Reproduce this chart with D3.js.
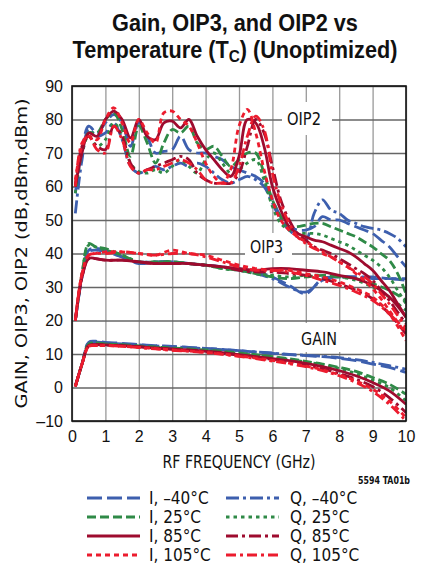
<!DOCTYPE html>
<html><head><meta charset="utf-8">
<script src="https://cdn.jsdelivr.net/npm/d3@7"></script>
<style>
html,body{margin:0;padding:0;background:#fff;}
svg{display:block;font-family:"Liberation Sans Narrow","DejaVu Sans Condensed","Roboto Condensed",sans-serif;}
</style></head>
<body>
<svg id="chart" width="422" height="568"></svg>
<script>
// ---------- data ----------
const seriesNames = ["I, –40°C","Q, –40°C","I, 25°C","Q, 25°C","I, 85°C","Q, 85°C","I, 105°C","Q, 105°C"];
const xTicks = [0,1,2,3,4,5,6,7,8,9,10];
const yTicks = [-10,0,10,20,30,40,50,60,70,80,90];

// OIP2 frequency grid (GHz)
const freqOIP2 = [0.1,0.3,0.5,0.75,1,1.25,1.5,1.75,2,2.25,2.5,2.75,3,3.25,3.5,3.75,4,4.25,4.5,4.75,5,5.25,5.5,5.75,6,6.25,6.5,6.75,7,7.25,7.5,7.75,8,8.25,8.5,8.75,9,9.25,9.5,9.75,10];
// Gain / OIP3 frequency grid (GHz)
const freqSmooth = [0.1,0.3,0.5,0.7,1,1.5,2,2.5,3,3.5,4,4.5,5,5.5,6,6.5,7,7.5,8,8.5,9,9.5,10];

const oip2I_m40 = [58,71,78,76,79,81.5,79,72,79,75,70,70.5,71,75,71,70,70,69,68,66,65,64,63,61,56,51,48,47,47,48,51,50,50,49,48,47,46,44,42,39,36];
const oip2Q_m40 = [52,68,77,75,76,79,74,66,64,65,66,65,66,67,66,67,66,64,62,61,62,63,62,60,55,50,47,45,44,52,56,53,52,50,49,48,47.5,47,46,44.5,42];
const oip2I_25  = [60,71,76,76,80,82,77,69,78,73,67,73,77,76,78,73,71,72,69,66,68,70,70,64,56,51,48,48,48.5,49,49,48,47,46,45,43.5,42,40,38,34,28];
const oip2Q_25  = [58,70,75,72,74,79,75,67,64.5,64,65,64,66,68,66,64,68,70,67,64,65,67,68,62,54,49,47,46,46,46,45.5,44.5,43.5,42.5,41,39.5,38,36,33,29,25];
const oip2I_85  = [60,70,76,75,80,82.5,80,74.5,80,75,74,79,79.5,77.5,80,75,71,68,65,63,69,80,79,72,60,53,48,46,45,44,43.5,42.5,41.5,40.5,39,37,35,32,29,25,21];
const oip2Q_85  = [60,72,75,72,71,78,75,67,64,65,66,67,68,69,68,64,62,61,61,61,64,72,80,76,66,56,50,46,44,42,41,40,38.5,37,35.5,34,32,29,26,22.5,19];
const oip2I_105 = [62,72,75,74,80,83.5,79,73,80,76,73,82,82.5,80,78,73,67,63,61,65,78,83,76,65,56,50,47,45,43.5,42,40,39,37.5,36,34,32,29.5,26.5,23,19.5,16];
const oip2Q_105 = [60,73,75,71,70,78,74,66,64,65,65,66,67,68,67,65,62,61,61,61,66,75,81,77,64,55,49,45,43,41.5,40.5,39,37.5,36,34.5,33,31,28,25,21.5,18];

const oip3I_m40 = [20,33,41,41.5,41,39,37,37.5,37.5,37,36.5,36,35.5,34.5,33,30.5,28,32.5,33,33,33,32.5,32.5];
const oip3Q_m40 = [20,33,40.5,41,40.5,39,37.5,37.5,37.5,37,36.5,36,35,34,32.5,30,28.5,32,33,33,32.5,32.5,32];
const oip3I_25  = [20,34,43,42,41.5,39.5,37.5,37.5,37.5,37,36.5,35.5,35,34,33,32.5,33,33.5,33,32.5,31,29,26];
const oip3Q_25  = [20,34,42.5,42,41,39.5,37.5,37.5,37.5,37,36.5,35.5,35,34,33.5,33,33.5,33.5,33,32,30,27,23];
const oip3I_85  = [20,33,38.5,38.5,38,38,37.5,37,37,37,36.5,36,35.5,35,35.5,35.5,35,34.5,33.5,32.5,30.5,27,21];
const oip3Q_85  = [20,33,38.5,38.5,38,38,37.5,37,37,37,36.5,36,35,34.5,34.5,34,33.5,32.5,31,29,26.5,22,16];
const oip3I_105 = [20,34,39.5,40,40.5,40.5,40,39.5,41,40,39.5,38,36.5,35.5,35,35,34,33,31.5,29.5,27,22,14];
const oip3Q_105 = [20,34,39.5,40,40,40.5,40,39.5,40,40,39,37.5,36,35,35,34.5,33.5,32,30.5,28.5,26,22,17];

const gainI_m40 = [0.3,7,13.5,13.8,13.5,13.2,12.8,12.5,12.3,12,11.7,11.4,11,10.6,10.2,9.8,9.5,9.2,8.7,8,7,6,4.5];
const gainQ_m40 = [0.5,7,13.3,13.6,13.3,13,12.7,12.4,12.2,11.9,11.6,11.3,11,10.6,10.3,9.9,9.6,9.3,8.9,8.3,7.5,6.5,5.5];
const gainI_25  = [0.3,7,13,13.3,13,12.8,12.4,12.1,11.8,11.5,11.2,10.8,10.3,9.8,9.2,8.6,7.8,7,6,4.8,3,1,-2];
const gainQ_25  = [0.5,7,13,13.2,13,12.7,12.3,12,11.7,11.4,11,10.6,10.1,9.6,9,8.4,7.6,6.8,5.7,4.2,2.2,0,-4];
const gainI_85  = [0.3,7,12.5,12.8,12.7,12.5,12.2,11.8,11.5,11.2,10.8,10.4,9.8,9.2,8.6,8,7.2,6.2,5,3.5,1.5,-1,-5];
const gainQ_85  = [0.3,7,12.5,12.8,12.7,12.4,12.1,11.7,11.4,11.1,10.7,10.2,9.6,9,8.4,7.6,6.7,5.6,4.2,2.5,0.3,-3,-7.5];
const gainI_105 = [0.3,7,12.3,12.5,12.5,12.3,12,11.6,11.2,10.9,10.5,10,9.4,8.8,8.1,7.3,6.4,5.3,3.8,2,-0.5,-4,-9];
const gainQ_105 = [0.3,7,12.3,12.5,12.5,12.3,11.9,11.5,11.1,10.8,10.4,9.9,9.3,8.6,7.9,7.1,6.2,5,3.5,1.5,-1.2,-5,-10];

const oip2Values = [oip2I_m40,oip2Q_m40,oip2I_25,oip2Q_25,oip2I_85,oip2Q_85,oip2I_105,oip2Q_105];
const oip3Values = [oip3I_m40,oip3Q_m40,oip3I_25,oip3Q_25,oip3I_85,oip3Q_85,oip3I_105,oip3Q_105];
const gainValues = [gainI_m40,gainQ_m40,gainI_25,gainQ_25,gainI_85,gainQ_85,gainI_105,gainQ_105];

// ---------- styles ----------
const colors = ["#3d5fae","#3d5fae","#2f8a47","#2f8a47","#9e0b2e","#9e0b2e","#ec1c2e","#ec1c2e"];
const dashes = ["15 5","13 4 3 4","9 4","3.5 4","none","12 4 3 4","5 4","10 4 3 4"];

const svg = d3.select("#chart");
const L = 72, R = 406, T = 86, B = 421;
const x = d3.scaleLinear().domain([0,10]).range([L,R]);
const y = d3.scaleLinear().domain([-10,90]).range([B,T]);

// title (horizontally condensed to match the narrow original face)
function condensedLine(cx, cy, targetW, build){
  const g = svg.append("g").attr("transform",`translate(${cx},${cy})`);
  const t = g.append("text").attr("text-anchor","middle").attr("font-weight","bold").attr("font-size",24)
    .attr("fill","#111").attr("font-family","'Liberation Sans',Arial,sans-serif");
  build(t);
  const w = t.node().getBBox().width;
  g.attr("transform",`translate(${cx},${cy}) scale(${targetW/w},1)`);
}
condensedLine(235,31,246,t=>t.text("Gain, OIP3, and OIP2 vs"));
condensedLine(235,58,325,t=>{
  t.append("tspan").text("Temperature (T");
  t.append("tspan").attr("font-size",17).attr("dy",4).text("C");
  t.append("tspan").attr("dy",-4).text(") (Unoptimized)");
});

// grid
svg.append("g").attr("transform",`translate(0,${B})`)
  .call(d3.axisBottom(x).tickValues(xTicks).tickSize(-(B-T)).tickFormat(""))
  .call(g=>g.select(".domain").remove())
  .call(g=>g.selectAll("line").attr("stroke","#999").attr("stroke-width",1.3));
svg.append("g").attr("transform",`translate(${L},0)`)
  .call(d3.axisLeft(y).tickValues(yTicks).tickSize(-(R-L)).tickFormat(""))
  .call(g=>g.select(".domain").remove())
  .call(g=>g.selectAll("line").attr("stroke","#666").attr("stroke-width",1.3));

// label boxes
const labels = [{t:"OIP2",bx:282,by:102,bw:50,bh:33,tx:304,ty:125,w:34},
                {t:"OIP3",bx:245,by:233,bw:47,bh:25,tx:266.5,ty:253,w:33},
                {t:"GAIN",bx:295,by:323,bw:48,bh:29,tx:319,ty:345,w:36}];
labels.forEach(l=>{
  svg.append("rect").attr("x",l.bx).attr("y",l.by).attr("width",l.bw).attr("height",l.bh).attr("fill","#fff");
  svg.append("text").attr("x",l.tx).attr("y",l.ty).attr("text-anchor","middle").attr("font-size",18)
    .attr("textLength",l.w).attr("lengthAdjust","spacingAndGlyphs").attr("fill","#111").text(l.t);
});

// curves
svg.append("clipPath").attr("id","clip").append("rect").attr("x",L).attr("y",T).attr("width",R-L).attr("height",B-T);
const plot = svg.append("g").attr("clip-path","url(#clip)");
const line = d3.line().x(d=>x(d[0])).y(d=>y(d[1])).curve(d3.curveCatmullRom.alpha(0.5));
function drawSet(freqs, values){
  values.forEach((vals,i)=>{
    plot.append("path").datum(vals.map((v,k)=>[freqs[k],v]))
      .attr("d",line).attr("fill","none").attr("stroke",colors[i])
      .attr("stroke-width",2.8).attr("stroke-dasharray",dashes[i])
      .attr("stroke-linejoin","round");
  });
}
drawSet(freqSmooth, gainValues);
drawSet(freqSmooth, oip3Values);
drawSet(freqOIP2, oip2Values);

// frame
svg.append("rect").attr("x",L).attr("y",T).attr("width",R-L).attr("height",B-T).attr("fill","none").attr("stroke","#111").attr("stroke-width",1.6);

// tick labels
const fmt = d => d<0 ? "–"+Math.abs(d) : String(d);
svg.append("g").attr("transform",`translate(0,${B})`)
  .call(d3.axisBottom(x).tickValues(xTicks).tickSize(0).tickPadding(10).tickFormat(fmt))
  .call(g=>g.select(".domain").remove())
  .call(g=>g.selectAll("text").attr("font-size",16).attr("fill","#111").attr("font-family",null));
svg.append("g").attr("transform",`translate(${L},0)`)
  .call(d3.axisLeft(y).tickValues(yTicks).tickSize(0).tickPadding(9).tickFormat(fmt))
  .call(g=>g.select(".domain").remove())
  .call(g=>g.selectAll("text").attr("font-size",16).attr("fill","#111").attr("font-family",null));

// axis titles
svg.append("text").attr("x",239).attr("y",468).attr("text-anchor","middle").attr("font-size",17)
  .attr("textLength",153).attr("lengthAdjust","spacingAndGlyphs").attr("fill","#111").text("RF FREQUENCY (GHz)");
svg.append("text").attr("transform",`translate(27,${(T+B)/2}) rotate(-90)`).attr("text-anchor","middle").attr("font-size",16)
  .attr("textLength",310).attr("lengthAdjust","spacingAndGlyphs").attr("fill","#111").text("GAIN, OIP3, OIP2 (dB,dBm,dBm)");
svg.append("text").attr("x",410).attr("y",484).attr("text-anchor","end").attr("font-size",10).attr("font-weight","bold")
  .attr("textLength",52).attr("lengthAdjust","spacingAndGlyphs").attr("fill","#111").text("5594 TA01b");

// legend
const rowsY = [498,517,536,555];
seriesNames.forEach((name,i)=>{
  const col = i%2, row = Math.floor(i/2);
  const lx = col===0 ? 87 : 226, tx = col===0 ? 149 : 290;
  const yy = rowsY[row];
  svg.append("line").attr("x1",lx).attr("x2",lx+53).attr("y1",yy).attr("y2",yy)
    .attr("stroke",colors[i]).attr("stroke-width",3.2).attr("stroke-dasharray",dashes[i]);
  svg.append("text").attr("x",tx).attr("y",yy+6).attr("font-size",17).attr("fill","#111").text(name);
});
</script>
</body></html>
